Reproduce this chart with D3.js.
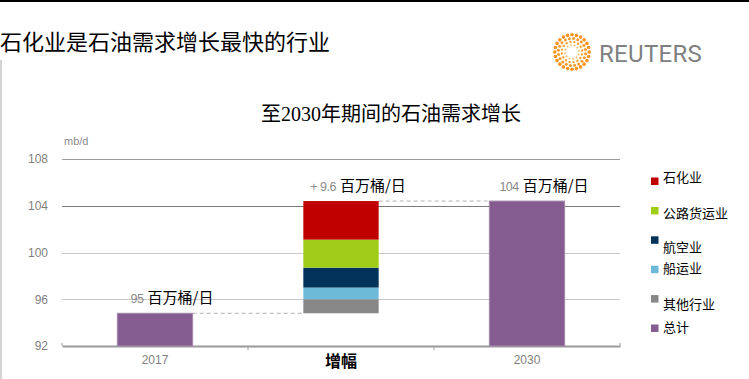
<!DOCTYPE html>
<html><head><meta charset="utf-8">
<script src="https://cdn.jsdelivr.net/npm/d3@7"></script>
<style>
html,body{margin:0;padding:0;background:#fff;}
svg{display:block;}
</style></head>
<body>
<svg id="chart" width="749" height="379"></svg>
<script>
// ---- data ----
const categories = ["2017", "增幅", "2030"];
const totalCategories = ["2017", "2030"];
const totalValues = [94.8, 104.4];
const baseValue = 94.8;
const segmentNames = ["其他行业", "船运业", "航空业", "公路货运业", "石化业"];
const segmentValues = [1.2, 1.0, 1.7, 2.4, 3.3];
const valueLabels = ["95", "+ 9.6", "104"];
const unitLabel = "百万桶/日";
const yTicks = [92, 96, 100, 104, 108];
const legendNames = ["石化业", "公路货运业", "航空业", "船运业", "其他行业", "总计"];
const title = "石化业是石油需求增长最快的行业";
const chartTitle = "至2030年期间的石油需求增长";
const unitName = "mb/d";

// ---- styles ----
const colors = {
  "石化业": "#c00000",
  "公路货运业": "#9fcc17",
  "航空业": "#00325a",
  "船运业": "#6dbad8",
  "其他行业": "#878787",
  "总计": "#845c8f"
};
const cjk = "'Noto Sans CJK SC', sans-serif";
const latin = "'Liberation Sans', Arial, sans-serif";

const svg = d3.select("#chart");

// frame lines
svg.append("rect").attr("x", 0).attr("y", 0).attr("width", 749).attr("height", 2).attr("fill", "#000");
svg.append("rect").attr("x", 0).attr("y", 60).attr("width", 2).attr("height", 319).attr("fill", "#d4d4d4");

// title
svg.append("text").attr("x", 0).attr("y", 50)
  .attr("font-family", cjk).attr("font-size", 22).attr("fill", "#000")
  .text(title);

// Reuters logo
const logo = svg.append("g").attr("transform", "translate(572,52)");
const rings = [
  {r: 17.2, n: 24, d: 1.8, c: "#f7931e"},
  {r: 13.6, n: 20, d: 1.5, c: "#f89a2a"},
  {r: 10.2, n: 16, d: 1.2, c: "#f9a53a"},
  {r: 7.0, n: 12, d: 0.9, c: "#fab04a"}
];
rings.forEach((ring, k) => {
  d3.range(ring.n).forEach(i => {
    const a = (i / ring.n) * 2 * Math.PI + k * 0.12;
    logo.append("circle")
      .attr("cx", ring.r * Math.cos(a)).attr("cy", ring.r * Math.sin(a))
      .attr("r", ring.d).attr("fill", ring.c);
  });
});
svg.append("text").attr("x", 599).attr("y", 62)
  .attr("font-family", "Roboto, 'Open Sans', sans-serif").attr("font-size", 24)
  .attr("font-weight", 400).attr("letter-spacing", 0.3)
  .attr("fill", "#808080").text("REUTERS");

// chart title
svg.append("text").attr("x", 391).attr("y", 121).attr("text-anchor", "middle")
  .attr("font-family", "'Liberation Serif', 'Noto Sans CJK SC', serif").attr("font-size", 20)
  .attr("fill", "#000").text(chartTitle);

// scales
const x = d3.scaleBand().domain(categories).range([62, 620]).padding(0);
const y = d3.scaleLinear().domain([92, 108]).range([346, 159]);
const barW = x.bandwidth() * 0.405;
const cx = c => x(c) + x.bandwidth() / 2;

// gridlines
const gridColor = {96: "#c8c8c8", 100: "#c8c8c8", 104: "#7a7a7a", 108: "#9a9a9a"};
svg.append("g").selectAll("line").data(yTicks.filter(t => t !== 92)).join("line")
  .attr("x1", 62).attr("x2", 620)
  .attr("y1", d => Math.round(y(d)) + 0.5).attr("y2", d => Math.round(y(d)) + 0.5)
  .attr("stroke", d => gridColor[d]).attr("stroke-width", 1);

// y axis labels
const yAxis = d3.axisLeft(y).tickValues(yTicks).tickSize(0).tickPadding(0);
const yg = svg.append("g").attr("transform", "translate(48,0)").call(yAxis);
yg.select(".domain").remove();
yg.selectAll("text").attr("font-family", latin).attr("font-size", 12).attr("fill", "#7f7f7f");

svg.append("text").attr("x", 64).attr("y", 145)
  .attr("font-family", latin).attr("font-size", 11).attr("fill", "#8a8a8a").text(unitName);

// baseline axis
const xAxis = d3.axisBottom(x).tickSize(0).tickFormat("");
const xg = svg.append("g").attr("transform", `translate(0,${y(92)})`).call(xAxis);
xg.select(".domain").attr("stroke", "#9a9a9a").attr("stroke-width", 2);
const boundaries = [62, x("增幅"), x("2030"), 620];
svg.append("g").selectAll("line").data(boundaries).join("line")
  .attr("x1", d => d).attr("x2", d => d)
  .attr("y1", (d, i) => (i === 0 || i === 3) ? y(92) - 3 : y(92))
  .attr("y2", (d, i) => (i === 0 || i === 3) ? y(92) : y(92) + 4)
  .attr("stroke", "#9a9a9a").attr("stroke-width", 1);

// category labels
categories.forEach((c, i) => {
  const bold = c === "增幅";
  svg.append("text").attr("x", cx(c)).attr("y", bold ? 367 : 364)
    .attr("text-anchor", "middle")
    .attr("font-family", bold ? cjk : latin)
    .attr("font-size", bold ? 16 : 12)
    .attr("font-weight", bold ? 700 : 400)
    .attr("fill", bold ? "#000" : "#7f7f7f").text(c);
});

// connectors (dashed)
const total2030 = baseValue + d3.sum(segmentValues);
svg.append("line")
  .attr("x1", cx("2017") + barW / 2).attr("x2", cx("增幅") - barW / 2)
  .attr("y1", y(baseValue)).attr("y2", y(baseValue))
  .attr("stroke", "#b0b0b0").attr("stroke-dasharray", "4,3");
svg.append("line")
  .attr("x1", cx("增幅") + barW / 2).attr("x2", cx("2030") - barW / 2)
  .attr("y1", y(total2030)).attr("y2", y(total2030))
  .attr("stroke", "#b0b0b0").attr("stroke-dasharray", "4,3");

// total bars
svg.append("g").selectAll("rect").data(totalCategories).join("rect")
  .attr("x", d => cx(d) - barW / 2).attr("width", barW)
  .attr("y", (d, i) => y(totalValues[i]))
  .attr("height", (d, i) => y(92) - y(totalValues[i]))
  .attr("fill", colors["总计"]).attr("stroke", "#a48aae").attr("stroke-width", 1);

// stacked increment bar
let acc = baseValue;
const stacks = segmentValues.map((v, i) => { const s = {name: segmentNames[i], y0: acc, y1: acc + v}; acc += v; return s; });
svg.append("g").selectAll("rect").data(stacks).join("rect")
  .attr("x", cx("增幅") - barW / 2).attr("width", barW)
  .attr("y", d => y(d.y1)).attr("height", d => y(d.y0) - y(d.y1))
  .attr("fill", d => colors[d.name]);

// value labels
const labelTops = [y(totalValues[0]), y(total2030), y(totalValues[1])];
categories.forEach((c, i) => {
  const t = svg.append("text").attr("x", cx(c) + 17).attr("y", labelTops[i] - 10)
    .attr("text-anchor", "middle");
  t.append("tspan").attr("font-family", latin).attr("font-size", 12.5).attr("fill", "#8a8a8a")
    .attr("letter-spacing", -0.5).text(valueLabels[i]);
  t.append("tspan").attr("font-family", cjk).attr("font-size", 15).attr("fill", "#000")
    .attr("dx", 4).text(unitLabel);
  if (i === 0) {
    const bb = t.node().getBBox();
    svg.insert("rect", "text")
      .attr("x", bb.x - 6).attr("y", bb.y + 2).attr("width", 285 - bb.x + 6).attr("height", bb.height - 4)
      .attr("fill", "#fff");
  }
});

// legend
const legendY = d3.scalePoint().domain(legendNames).range([181, 328]);
const textShift = [-5, 2, 7, -1.5, 4.5, -2];
const lg = svg.append("g");
legendNames.forEach((n, i) => {
  lg.append("rect").attr("x", 651).attr("y", legendY(n) - 3.5).attr("width", 7.5).attr("height", 7.5)
    .attr("fill", colors[n]);
  lg.append("text").attr("x", 663).attr("y", legendY(n) + textShift[i])
    .attr("dominant-baseline", "central")
    .attr("font-family", cjk).attr("font-size", 13).attr("fill", "#000").text(n);
});
</script>
</body></html>
